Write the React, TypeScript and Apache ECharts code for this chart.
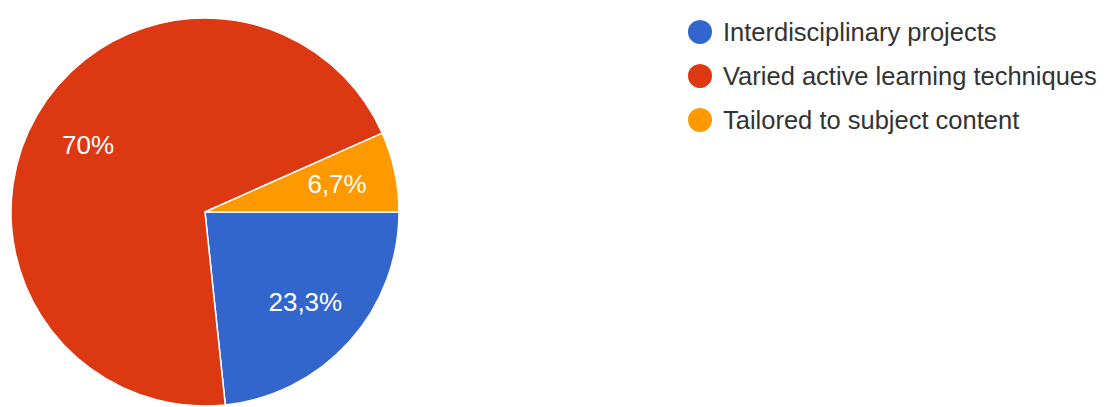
import React, { useEffect, useRef } from "react";
import * as echarts from "echarts";

const categories = [
  "Interdisciplinary projects",
  "Varied active learning techniques",
  "Tailored to subject content",
];
const counts = [7, 21, 2];
const colors = ["#3366cc", "#dc3912", "#ff9900"];

const total = counts.reduce((a, b) => a + b, 0);
const pctLabel = (v: number) => {
  const p = Math.round((v / total) * 1000) / 10;
  return (Number.isInteger(p) ? String(p) : p.toFixed(1)).replace(".", ",") + "%";
};

export default function App() {
  const ref = useRef<HTMLDivElement>(null);
  useEffect(() => {
    if (!ref.current) return;
    const chart = echarts.init(ref.current, undefined, { renderer: "svg" });
    const data = categories.map((name, i) => ({
      name,
      value: counts[i],
      itemStyle: { color: colors[i] },
    }));
    chart.setOption({
      animation: false,
      legend: {
        orient: "vertical",
        left: 681,
        top: 13,
        itemWidth: 36,
        itemHeight: 26,
        itemGap: 16,
        icon: "circle",
        selectedMode: false,
        data: categories.map((name, i) => ({ name, itemStyle: { color: colors[i] } })),
        textStyle: {
          fontFamily: "Arial, 'Liberation Sans', sans-serif",
          fontSize: 25.5,
          color: "#333333",
          lineHeight: 26,
        },
      },
      series: [
        {
          type: "pie",
          center: [205, 212],
          radius: [0, 194],
          startAngle: 0,
          clockwise: true,
          silent: true,
          label: { show: false },
          labelLine: { show: false },
          emphasis: { disabled: true },
          itemStyle: { borderColor: "#ffffff", borderWidth: 1.5 },
          data,
        },
        {
          type: "pie",
          center: [205, 212],
          radius: [64, 200],
          startAngle: 0,
          clockwise: true,
          silent: true,
          emphasis: { disabled: true },
          itemStyle: { color: "transparent", borderWidth: 0 },
          labelLine: { show: false },
          label: {
            show: true,
            position: "inside",
            color: "#ffffff",
            fontFamily: "Arial, 'Liberation Sans', sans-serif",
            fontSize: 26,
            formatter: (p: any) => pctLabel(p.value),
          },
          data: categories.map((name, i) => ({
            name,
            value: counts[i],
            itemStyle: { color: "transparent" },
          })),
        },
      ],
    });
    return () => chart.dispose();
  }, []);
  return (
    <div
      ref={ref}
      style={{ position: "absolute", left: 0, top: 0, width: 1117, height: 407, background: "#ffffff" }}
    />
  );
}
